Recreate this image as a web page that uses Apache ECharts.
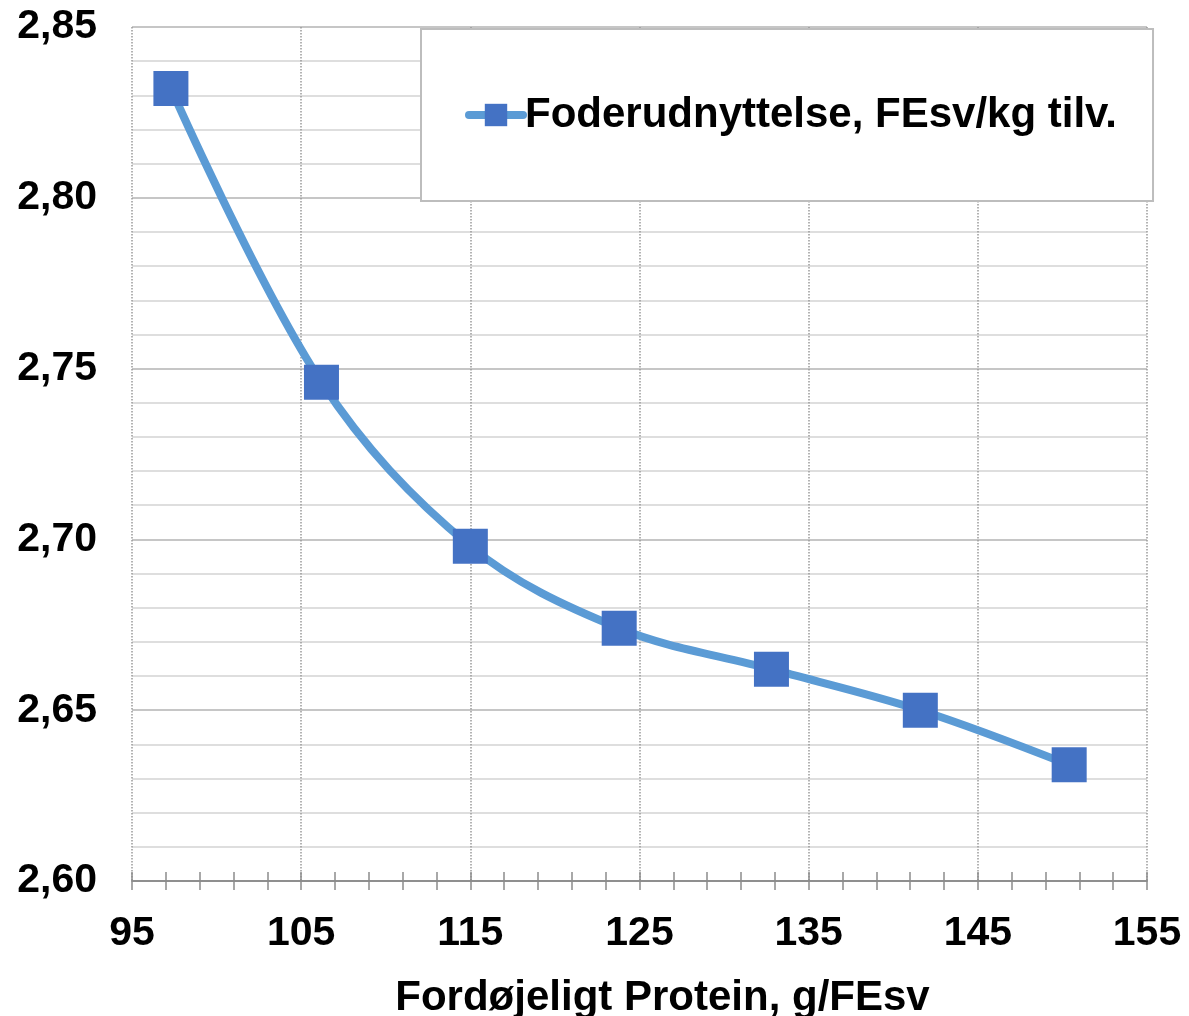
<!DOCTYPE html>
<html>
<head>
<meta charset="utf-8">
<script src="https://cdn.jsdelivr.net/npm/echarts@6/dist/echarts.min.js"></script>
<style>
html,body{margin:0;padding:0;background:#fff;}
#chart{width:1189px;height:1016px;}
</style>
</head>
<body>
<div id="chart"></div>
<script>
const seriesName = 'Foderudnyttelse, FEsv/kg tilv.';
const xName = 'Fordøjeligt Protein, g/FEsv';
const proteinValues = [97.3, 106.2, 115.0, 123.8, 132.8, 141.6, 150.4];
const feedValues = [2.832, 2.746, 2.698, 2.674, 2.662, 2.650, 2.634];

const FONT = '"Liberation Sans", Arial, sans-serif';
const chart = echarts.init(document.getElementById('chart'), null, {renderer: 'canvas'});

const points = proteinValues.map((x, i) => [x, feedValues[i]]);

const xCommon = {
  type: 'value', min: 95, max: 155, interval: 10,
  minorTick: {show: true, splitNumber: 5, length: 9, lineStyle: {color: '#8c8c8c', width: 1.5}},
  axisLine: {show: true, lineStyle: {color: '#8c8c8c', width: 1.5}},
  axisTick: {show: true, length: 9, lineStyle: {color: '#8c8c8c', width: 1.5}}
};

chart.setOption({
  animation: false,
  backgroundColor: '#fff',
  grid: {left: 132, top: 27, right: 42, bottom: 135, containLabel: false, outerBoundsMode: 'none'},
  legend: {
    show: true,
    data: [seriesName],
    left: 421, top: 29,
    padding: [65, 36, 65, 44],
    borderColor: '#bdbdbd', borderWidth: 2,
    backgroundColor: '#fff',
    itemWidth: 54, itemHeight: 28, itemGap: 0,
    lineStyle: {width: 8, cap: 'round'},
    textStyle: {fontFamily: FONT, fontWeight: 'bold', fontSize: 42, color: '#000', padding: [0, 0, 0, -3]}
  },
  xAxis: [
    Object.assign({}, xCommon, {
      name: xName, nameLocation: 'middle', nameGap: 96,
      nameTextStyle: {fontFamily: FONT, fontWeight: 'bold', fontSize: 42, color: '#000', padding: [0, 0, 0, 46]},
      axisLabel: {fontFamily: FONT, fontWeight: 'bold', fontSize: 41, color: '#000', margin: 32},
      splitLine: {show: true, lineStyle: {color: '#9a9a9a', type: 'dotted', width: 1.5}}
    }),
    Object.assign({}, xCommon, {
      position: 'bottom',
      axisTick: {show: true, inside: true, length: 9, lineStyle: {color: '#8c8c8c', width: 1.5}},
      minorTick: {show: true, splitNumber: 5, length: 9, lineStyle: {color: '#8c8c8c', width: 1.5}},
      axisLabel: {show: false},
      splitLine: {show: false}
    })
  ],
  yAxis: {
    type: 'value', min: 2.6, max: 2.85, interval: 0.05,
    axisLine: {show: false},
    axisTick: {show: false},
    axisLabel: {
      fontFamily: FONT, fontWeight: 'bold', fontSize: 41, color: '#000', margin: 35,
      formatter: v => v.toFixed(2).replace('.', ',')
    },
    splitLine: {show: true, lineStyle: {color: '#b3b3b3', width: 1.5}},
    minorTick: {show: false, splitNumber: 5},
    minorSplitLine: {show: true, lineStyle: {color: '#d4d4d4', width: 1.5}}
  },
  series: [{
    name: seriesName,
    type: 'line',
    xAxisIndex: 0,
    data: points,
    smooth: 0.35,
    symbol: 'rect',
    symbolSize: 35,
    lineStyle: {color: '#5B9BD5', width: 8, cap: 'round'},
    itemStyle: {color: '#4472C4'},
    z: 5
  }]
});
</script>
</body>
</html>
